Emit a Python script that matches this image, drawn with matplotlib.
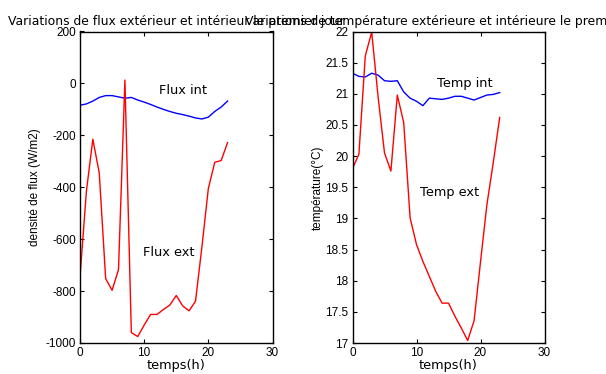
import matplotlib
matplotlib.use("Agg")
import matplotlib.pyplot as plt
from matplotlib.ticker import FuncFormatter

plt.rcParams['font.family'] = ['Liberation Sans', 'DejaVu Sans']
plt.rcParams['axes.unicode_minus'] = False

hours = list(range(24))
flux_int = [-84, -79, -68, -54, -47, -47, -52, -57, -54, -64, -72, -81,
            -91, -100, -108, -115, -120, -126, -133, -137, -130, -108, -91, -68]
flux_ext = [-745, -415, -215, -345, -752, -797, -717, 13, -960, -975, -931, -890,
            -890, -871, -854, -817, -857, -876, -839, -630, -405, -304, -297, -228]
temp_int = [21.33, 21.28, 21.27, 21.33, 21.30, 21.21, 21.20, 21.21, 21.03, 20.93,
            20.88, 20.81, 20.93, 20.92, 20.91, 20.93, 20.96, 20.96, 20.93, 20.90,
            20.94, 20.98, 20.99, 21.02]
temp_ext = [19.80, 20.03, 21.61, 21.99, 20.95, 20.05, 19.76, 20.98, 20.54, 19.01,
            18.58, 18.31, 18.07, 17.83, 17.64, 17.64, 17.43, 17.24, 17.04, 17.36,
            18.30, 19.22, 19.90, 20.62]

title_left = "Variations de flux extérieur et intérieur le premier jour"
title_right = "Variations de température extérieure et intérieure le premier jour"

fig = plt.figure(figsize=(6.06, 3.74), dpi=100)
fs = 8.5
wide = dict(family=['DejaVu Sans'], fontsize=9.3)
wide_t = dict(family=['DejaVu Sans'], fontsize=8.95)

ax1 = fig.add_axes([80 / 606, 31 / 374, 192.5 / 606, 311.5 / 374])
ax2 = fig.add_axes([352.5 / 606, 31 / 374, 192 / 606, 311.5 / 374])

for ax in (ax1, ax2):
    ax.tick_params(direction='in', length=3, width=0.8, top=True, right=True,
                   labelsize=fs, pad=3)
    for s in ax.spines.values():
        s.set_linewidth(1.0)
    ax.set_xlim(0, 30)
    ax.set_xticks([0, 10, 20, 30])
    ax.set_xlabel("temps(h)", labelpad=0, **wide)

ax1.plot(hours, flux_int, color='#0000ff', lw=1.0)
ax1.plot(hours, flux_ext, color='#ff0000', lw=1.0)
ax1.set_ylim(-1000, 200)
ax1.set_yticks(range(-1000, 201, 200))
ax1.set_ylabel("densité de flux (W/m2)", fontsize=fs, labelpad=3)
ax1.text(12.3, -28, "Flux int", va='center', ha='left', **wide)
ax1.text(9.8, -650, "Flux ext", va='center', ha='left', **wide)
ax1.set_title(title_left, pad=5, **wide_t)

ax2.plot(hours, temp_int, color='#0000ff', lw=1.0)
ax2.plot(hours, temp_ext, color='#ff0000', lw=1.0)
ax2.set_ylim(17, 22)
ax2.set_yticks([17 + 0.5 * i for i in range(11)])
ax2.yaxis.set_major_formatter(FuncFormatter(lambda v, p: "%g" % v))
ax2.set_ylabel("température(°C)", fontsize=fs, labelpad=1)
ax2.text(13.2, 21.17, "Temp int", va='center', ha='left', **wide)
ax2.text(10.6, 19.41, "Temp ext", va='center', ha='left', **wide)
ax2.set_title(title_right, pad=5, **wide_t)

fig.savefig("out.png", dpi=100)
